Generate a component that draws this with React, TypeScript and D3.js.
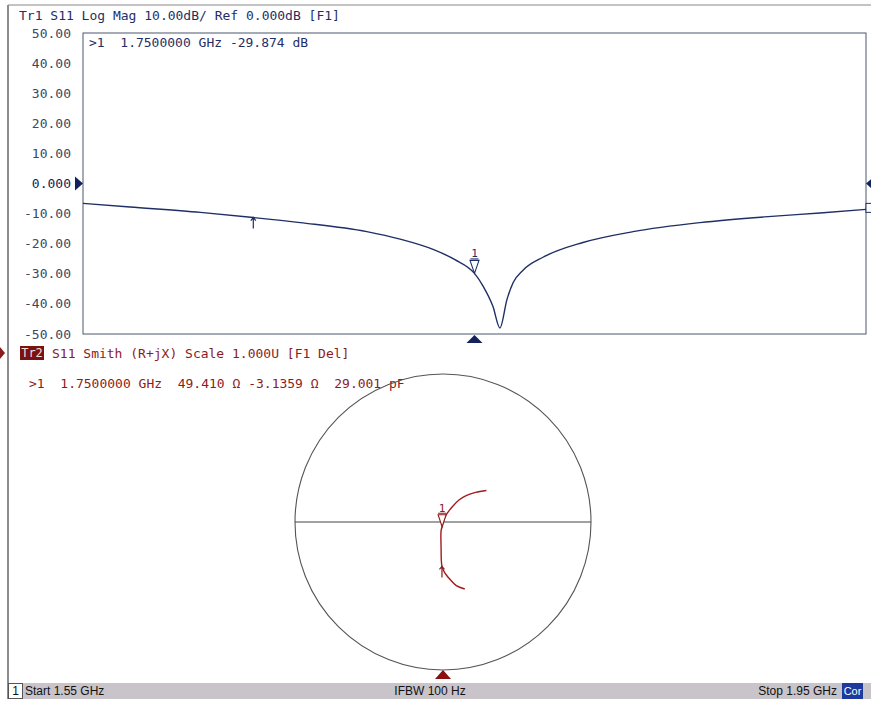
import React, { useEffect, useRef } from 'react';
import * as d3 from 'd3';

// Trace 1: S11 log magnitude
const freqGHz = [1.55, 1.574, 1.61, 1.637, 1.661, 1.695, 1.712, 1.7288, 1.74, 1.75, 1.7543, 1.7594, 1.763, 1.7666, 1.7697, 1.7748, 1.785, 1.8054, 1.831, 1.8652, 1.9, 1.9265, 1.95];
const s11dB = [-6.6, -7.8, -9.6, -11.3, -13, -16, -18.5, -21.9, -25.3, -29.874, -34, -40.8, -48, -38.5, -33, -28.8, -24.5, -19.6, -16, -13, -11, -9.8, -8.6];

// Trace 2: S11 on the Smith chart (reflection coefficient, start -> stop)
const gammaRe = [0.147, 0.09, 0.047, 0.01, -0.007, -0.013, -0.013, -0.006, 0.013, 0.06, 0.11, 0.16, 0.22, 0.293];
const gammaIm = [-0.453, -0.43, -0.387, -0.34, -0.3, -0.167, -0.06, -0.032, 0.033, 0.1, 0.15, 0.18, 0.2, 0.213];

const yTicks = [50, 40, 30, 20, 10, 0, -10, -20, -30, -40, -50];
const yTickLabels = ['50.00', '40.00', '30.00', '20.00', '10.00', '0.000', '-10.00', '-20.00', '-30.00', '-40.00', '-50.00'];

const marker1 = { freq: 1.75, db: -29.874, smithIndex: 7 };
const marker2 = { freq: 1.637, db: -11.3, smithIndex: 4 };

const NAVY = '#1f2f66';
const RED = '#8e1b1b';
const MONO = '"DejaVu Sans Mono", monospace';

const App = () => {
  const svgRef = useRef(null);

  useEffect(() => {
    const svg = d3.select(svgRef.current);
    svg.selectAll('*').remove();

    const x = d3.scaleLinear().domain([1.55, 1.95]).range([83, 866]);
    const y = d3.scaleLinear().domain([-50, 50]).range([334, 33]);

    // outer frame
    svg.append('line').attr('x1', 8).attr('x2', 8).attr('y1', 5).attr('y2', 699).attr('stroke', '#666').attr('stroke-width', 1.5);
    svg.append('line').attr('x1', 8).attr('x2', 871).attr('y1', 5).attr('y2', 5).attr('stroke', '#888');

    // title trace 1
    svg.append('text').attr('x', 19).attr('y', 19.5)
      .attr('font-family', MONO).attr('font-size', 13).attr('fill', NAVY)
      .text('Tr1 S11 Log Mag 10.00dB/ Ref 0.000dB [F1]');

    // plot box
    svg.append('rect').attr('x', 83).attr('y', 33).attr('width', 783).attr('height', 301)
      .attr('fill', 'none').attr('stroke', '#4d5670').attr('stroke-width', 1);

    // y labels
    yTicks.forEach((t, i) => {
      svg.append('text').attr('x', 71).attr('y', y(t)).attr('dy', '0.35em')
        .attr('text-anchor', 'end').attr('font-family', MONO).attr('font-size', 13)
        .attr('fill', t === 0 ? '#14225a' : '#3c4766')
        .text(yTickLabels[i]);
    });

    // marker readout
    svg.append('text').attr('x', 89).attr('y', 42).attr('dy', '0.35em')
      .attr('font-family', MONO).attr('font-size', 13).attr('fill', NAVY)
      .style('white-space', 'pre')
      .text('>1  1.7500000 GHz -29.874 dB');

    // reference triangles
    svg.append('path').attr('d', `M75,${y(0) - 7}L83,${y(0)}L75,${y(0) + 7}Z`).attr('fill', '#14225a');
    svg.append('path').attr('d', `M874,${y(0) - 7}L866,${y(0)}L874,${y(0) + 7}Z`).attr('fill', '#14225a');
    svg.append('path').attr('d', `M${x(1.75) - 8},343L${x(1.75)},335L${x(1.75) + 8},343Z`).attr('fill', '#14225a');

    // trace 1
    const pts = freqGHz.map((f, i) => [x(f), y(s11dB[i])]);
    svg.append('path').attr('d', d3.line().curve(d3.curveMonotoneX)(pts))
      .attr('fill', 'none').attr('stroke', NAVY).attr('stroke-width', 1.4);

    // marker 1 (active)
    const mx = x(marker1.freq), my = y(marker1.db);
    svg.append('path').attr('d', `M${mx - 4.5},${my - 13}L${mx + 4.5},${my - 13}L${mx},${my}Z`)
      .attr('fill', '#fff').attr('stroke', NAVY).attr('stroke-width', 1.1);
    svg.append('text').attr('x', mx).attr('y', my - 16).attr('text-anchor', 'middle')
      .attr('font-family', MONO).attr('font-size', 11).attr('fill', NAVY).text('1');
    svg.append('line').attr('x1', mx - 4).attr('x2', mx + 4).attr('y1', my - 14.5).attr('y2', my - 14.5).attr('stroke', NAVY);

    // marker arrow
    const ax = x(marker2.freq), ay = y(marker2.db);
    svg.append('path').attr('d', `M${ax},${ay}L${ax},${ay + 11}M${ax - 2.5},${ay + 3}L${ax},${ay}L${ax + 2.5},${ay + 3}`)
      .attr('fill', 'none').attr('stroke', NAVY).attr('stroke-width', 1.2);

    // right edge channel marker
    svg.append('rect').attr('x', 866).attr('y', y(-8.6) - 6).attr('width', 6).attr('height', 9)
      .attr('fill', '#fff').attr('stroke', NAVY).attr('stroke-width', 1);

    // ---- trace 2 header ----
    svg.append('path').attr('d', 'M0,347L5,353L0,359Z').attr('fill', RED);
    svg.append('rect').attr('x', 20).attr('y', 346).attr('width', 24).attr('height', 14).attr('fill', '#7a1212');
    svg.append('text').attr('x', 32).attr('y', 353).attr('dy', '0.35em').attr('text-anchor', 'middle')
      .attr('font-family', MONO).attr('font-size', 12).attr('fill', '#f4dede').text('Tr2');
    svg.append('text').attr('x', 52).attr('y', 353).attr('dy', '0.35em')
      .attr('font-family', MONO).attr('font-size', 13).attr('fill', RED)
      .text('S11 Smith (R+jX) Scale 1.000U [F1 Del]');
    svg.append('text').attr('x', 29).attr('y', 383).attr('dy', '0.35em')
      .attr('font-family', MONO).attr('font-size', 13).attr('fill', RED)
      .style('white-space', 'pre')
      .text('>1  1.7500000 GHz  49.410 Ω -3.1359 Ω  29.001 pF');

    // Smith chart
    const cx = 443, cy = 522, r = 148;
    const sx = d3.scaleLinear().domain([-1, 1]).range([cx - r, cx + r]);
    const sy = d3.scaleLinear().domain([-1, 1]).range([cy + r, cy - r]);
    svg.append('circle').attr('cx', sx(0)).attr('cy', sy(0)).attr('r', r)
      .attr('fill', 'none').attr('stroke', '#555').attr('stroke-width', 1.1);
    svg.append('line').attr('x1', sx(-1)).attr('x2', sx(1)).attr('y1', sy(0)).attr('y2', sy(0))
      .attr('stroke', '#444').attr('stroke-width', 1.1);

    const spts = gammaRe.map((g, i) => [sx(g), sy(gammaIm[i])]);
    svg.append('path').attr('d', d3.line().curve(d3.curveCatmullRom)(spts))
      .attr('fill', 'none').attr('stroke', '#a01c1c').attr('stroke-width', 1.4);

    const [smx, smy] = spts[marker1.smithIndex];
    svg.append('path').attr('d', `M${smx - 4},${smy - 12}L${smx + 4},${smy - 12}L${smx},${smy}Z`)
      .attr('fill', '#fff').attr('stroke', RED).attr('stroke-width', 1.1);
    svg.append('text').attr('x', smx).attr('y', smy - 15).attr('text-anchor', 'middle')
      .attr('font-family', MONO).attr('font-size', 11).attr('fill', RED).text('1');
    svg.append('line').attr('x1', smx - 4).attr('x2', smx + 4).attr('y1', smy - 13.5).attr('y2', smy - 13.5).attr('stroke', RED);

    const [sax, say] = spts[marker2.smithIndex];
    svg.append('path').attr('d', `M${sax},${say}L${sax},${say + 11}M${sax - 2.5},${say + 3}L${sax},${say}L${sax + 2.5},${say + 3}`)
      .attr('fill', 'none').attr('stroke', RED).attr('stroke-width', 1.2);

    svg.append('path').attr('d', `M${cx - 8},679L${cx},670L${cx + 8},679Z`).attr('fill', '#8a1010');

    // ---- status bar ----
    svg.append('rect').attr('x', 8).attr('y', 683).attr('width', 863).attr('height', 16).attr('fill', '#c9c3ca');
    svg.append('rect').attr('x', 8.5).attr('y', 683.5).attr('width', 14).attr('height', 15)
      .attr('fill', '#fff').attr('stroke', '#555');
    const SANS = '"Liberation Sans", Arial, sans-serif';
    svg.append('text').attr('x', 15.5).attr('y', 691).attr('dy', '0.35em').attr('text-anchor', 'middle')
      .attr('font-family', SANS).attr('font-size', 12).attr('fill', '#111').text('1');
    svg.append('text').attr('x', 25).attr('y', 691).attr('dy', '0.35em')
      .attr('font-family', SANS).attr('font-size', 12).attr('fill', '#111').text('Start 1.55 GHz');
    svg.append('text').attr('x', 430).attr('y', 691).attr('dy', '0.35em').attr('text-anchor', 'middle')
      .attr('font-family', SANS).attr('font-size', 12).attr('fill', '#111').text('IFBW 100 Hz');
    svg.append('text').attr('x', 837).attr('y', 691).attr('dy', '0.35em').attr('text-anchor', 'end')
      .attr('font-family', SANS).attr('font-size', 12).attr('fill', '#111').text('Stop 1.95 GHz');
    svg.append('rect').attr('x', 842).attr('y', 683).attr('width', 21).attr('height', 16).attr('fill', '#1d3a9c');
    svg.append('text').attr('x', 852.5).attr('y', 691).attr('dy', '0.35em').attr('text-anchor', 'middle')
      .attr('font-family', SANS).attr('font-size', 11).attr('fill', '#fff').text('Cor');
  }, []);

  return (
    <svg ref={svgRef} width={871} height={702}
      style={{ position: 'absolute', left: 0, top: 0, background: '#fff' }} />
  );
};

export default App;
